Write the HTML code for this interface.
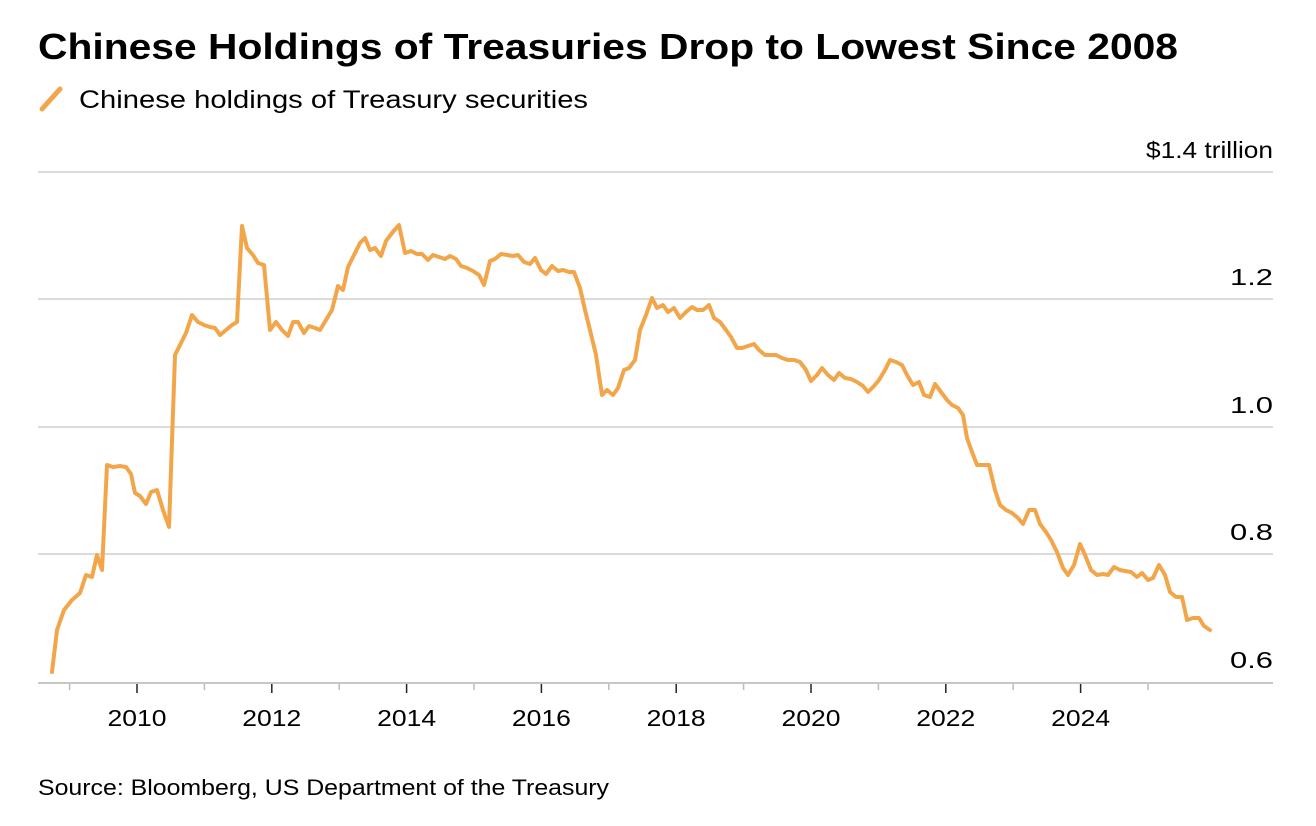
<!DOCTYPE html>
<html><head><meta charset="utf-8"><style>
html,body{margin:0;padding:0;background:#fff;}
svg{display:block;font-family:"Liberation Sans",Arial,sans-serif;}
</style></head><body>
<svg width="1316" height="826" viewBox="0 0 1316 826" xmlns="http://www.w3.org/2000/svg">
<text x="38" y="59" font-size="36" font-weight="bold" fill="#000" textLength="1140" lengthAdjust="spacingAndGlyphs">Chinese Holdings of Treasuries Drop to Lowest Since 2008</text>
<line x1="42" y1="109" x2="60" y2="89" stroke="#f2a649" stroke-width="5" stroke-linecap="round"/>
<text x="79" y="108" font-size="25" fill="#000" textLength="509" lengthAdjust="spacingAndGlyphs">Chinese holdings of Treasury securities</text>
<g stroke="#cfcfcf" stroke-width="1.5">
<line x1="38" y1="172" x2="1273" y2="172"/>
<line x1="38" y1="299" x2="1273" y2="299"/>
<line x1="38" y1="427" x2="1273" y2="427"/>
<line x1="38" y1="554" x2="1273" y2="554"/>
</g>
<line x1="38" y1="683" x2="1273" y2="683" stroke="#c8c8c8" stroke-width="2"/>
<g font-size="23" fill="#000" text-anchor="end">
<text x="1273" y="158" textLength="127" lengthAdjust="spacingAndGlyphs">$1.4 trillion</text>
<text x="1273" y="285" textLength="43" lengthAdjust="spacingAndGlyphs">1.2</text>
<text x="1273" y="413" textLength="43" lengthAdjust="spacingAndGlyphs">1.0</text>
<text x="1273" y="540" textLength="43" lengthAdjust="spacingAndGlyphs">0.8</text>
<text x="1273" y="668" textLength="43" lengthAdjust="spacingAndGlyphs">0.6</text>
</g>
<g stroke="#bbb" stroke-width="1.5">
<line x1="69.6" y1="684" x2="69.6" y2="690"/>
<line x1="204.4" y1="684" x2="204.4" y2="690"/>
<line x1="339.2" y1="684" x2="339.2" y2="690"/>
<line x1="474" y1="684" x2="474" y2="690"/>
<line x1="608.8" y1="684" x2="608.8" y2="690"/>
<line x1="743.6" y1="684" x2="743.6" y2="690"/>
<line x1="878.4" y1="684" x2="878.4" y2="690"/>
<line x1="1013.2" y1="684" x2="1013.2" y2="690"/>
<line x1="1148" y1="684" x2="1148" y2="690"/>
</g>
<g stroke="#222" stroke-width="1.5">
<line x1="137" y1="684" x2="137" y2="693"/>
<line x1="271.8" y1="684" x2="271.8" y2="693"/>
<line x1="406.6" y1="684" x2="406.6" y2="693"/>
<line x1="541.4" y1="684" x2="541.4" y2="693"/>
<line x1="676.2" y1="684" x2="676.2" y2="693"/>
<line x1="811" y1="684" x2="811" y2="693"/>
<line x1="945.8" y1="684" x2="945.8" y2="693"/>
<line x1="1080.6" y1="684" x2="1080.6" y2="693"/>
</g>
<g font-size="23" fill="#000">
<text x="107.5" y="726" textLength="59" lengthAdjust="spacingAndGlyphs">2010</text>
<text x="242.3" y="726" textLength="59" lengthAdjust="spacingAndGlyphs">2012</text>
<text x="377.1" y="726" textLength="59" lengthAdjust="spacingAndGlyphs">2014</text>
<text x="511.9" y="726" textLength="59" lengthAdjust="spacingAndGlyphs">2016</text>
<text x="646.7" y="726" textLength="59" lengthAdjust="spacingAndGlyphs">2018</text>
<text x="781.5" y="726" textLength="59" lengthAdjust="spacingAndGlyphs">2020</text>
<text x="916.3" y="726" textLength="59" lengthAdjust="spacingAndGlyphs">2022</text>
<text x="1051.1" y="726" textLength="59" lengthAdjust="spacingAndGlyphs">2024</text>
</g>
<polyline fill="none" stroke="#f2a649" stroke-width="4" stroke-linejoin="round" stroke-linecap="round" points="52,672 57,630 64,610 72,600 80,593 86,575 92,577 97,555 102,570 107,465 113,467 120,466 126,467 131,474 135,493 140,496 146,504 151,492 157,490 163,510 169,527 175,355 180,345 186,333 192,315 198,322 204,325 210,327 215,328 220,335 226,330 232,325 237,322 242,226 247,248 253,255 258,263 264,265 270,330 276,322 282,330 288,336 293,322 298,322 304,333 309,326 315,328 320,330 326,320 332,310 338,286 343,290 348,267 354,255 360,243 365,238 370,250 375,248 381,256 386,241 392,233 399,225 405,253 411,251 417,254 422,254 428,260 433,255 439,257 445,259 450,256 456,259 461,266 467,268 473,271 479,275 484,285 490,261 495,259 501,254 507,255 513,256 518,255 524,262 530,264 535,258 541,270 546,274 552,266 558,271 563,270 569,272 574,272 580,288 585,310 590,330 596,355 602,395 607,390 613,395 618,388 624,370 629,368 635,360 640,330 646,315 652,298 657,308 663,305 668,312 674,308 680,318 686,312 692,307 697,310 703,310 709,305 714,318 720,322 726,330 731,337 737,348 742,348 748,346 754,344 759,350 765,355 771,355 776,355 782,358 788,360 794,360 800,362 806,370 811,381 817,375 822,368 828,375 834,380 839,373 845,378 851,379 857,382 863,386 868,392 874,386 879,380 885,370 890,360 896,362 902,365 907,375 913,385 919,382 924,395 930,397 935,384 941,392 947,400 952,405 958,408 963,415 967,438 972,452 977,465 983,465 989,465 995,490 1000,505 1006,510 1012,513 1018,518 1023,524 1029,510 1035,510 1040,524 1046,532 1051,540 1057,552 1063,568 1068,575 1074,565 1080,544 1085,555 1091,570 1097,575 1103,574 1108,575 1114,567 1120,570 1125,571 1131,572 1137,577 1142,573 1148,580 1153,578 1159,565 1165,575 1170,592 1176,597 1182,597 1187,620 1193,618 1199,618 1204,626 1210,630"/>
<text x="38" y="795" font-size="22" fill="#000" textLength="571" lengthAdjust="spacingAndGlyphs">Source: Bloomberg, US Department of the Treasury</text>
</svg>
</body></html>
